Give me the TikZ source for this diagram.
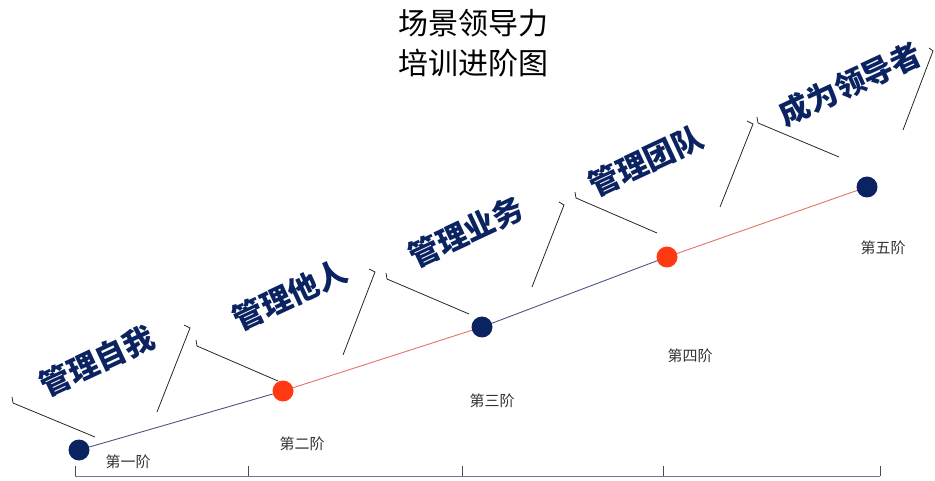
\documentclass[tikz,border=0pt]{standalone}
\usepackage{fontspec}
\setmainfont{Noto Sans CJK SC}
\usepackage{tikz}

\definecolor{StepNavy}{HTML}{0C2361}
\definecolor{StepRed}{HTML}{FF3A12}
\definecolor{PathNavy}{HTML}{4A5584}
\definecolor{PathRed}{HTML}{E57366}
\definecolor{AxisGray}{HTML}{6E7791}

\tikzset{
  stepdot/.style={circle, inner sep=0pt, minimum size=21pt},
  steptitle/.style={font=\fontsize{30.5}{31}\selectfont\bfseries, text=StepNavy, rotate=25, inner sep=0pt},
  steplabel/.style={font=\fontsize{15}{16}\selectfont, text=black!80, inner sep=0pt},
  bracket/.style={draw=black!85, line width=0.8pt},
}

\begin{document}
\begin{tikzpicture}[x=1pt, y=-1pt]
   \useasboundingbox (0,0) rectangle (935,481);

   % title
   \node (title) at (473,43) [align=center, font=\fontsize{30}{40}\selectfont] {场景领导力\\培训进阶图};

   % the five steps
   \node (d1) at (79,450) [stepdot, fill=StepNavy] {};
   \node (d2) at (283,391) [stepdot, fill=StepRed] {};
   \node (d3) at (482,327) [stepdot, fill=StepNavy] {};
   \node (d4) at (667,257) [stepdot, fill=StepRed] {};
   \node (d5) at (867,187) [stepdot, fill=StepNavy] {};
   \draw [PathNavy, line width=0.9pt] (d1) -- (d2);
   \draw [PathRed, line width=0.9pt] (d2) -- (d3);
   \draw [PathNavy, line width=0.9pt] (d3) -- (d4);
   \draw [PathRed, line width=0.9pt] (d4) -- (d5);

   \node (s1) at (128,462) [steplabel] {第一阶};
   \node (s2) at (302,444) [steplabel] {第二阶};
   \node (s3) at (492,401) [steplabel] {第三阶};
   \node (s4) at (690,356) [steplabel] {第四阶};
   \node (s5) at (883,248) [steplabel] {第五阶};

   \node (t1) at (97,361) [steptitle] {管理自我};
   \node (t2) at (290,295) [steptitle] {管理他人};
   \node (t3) at (466,232) [steptitle] {管理业务};
   \node (t4) at (646,161) [steptitle] {管理团队};
   \node (t5) at (850,84) [steptitle] {成为领导者};

   % brackets round the titles
   \draw [bracket] (12,397) -- (13,403) -- (95,437);
   \draw [bracket] (184,325) -- (190,328) -- (157,412);
   \draw [bracket] (196,340) -- (197,346) -- (278,381);
   \draw [bracket] (369,269) -- (375,272) -- (343,355);
   \draw [bracket] (386,273) -- (387,279) -- (469,314);
   \draw [bracket] (559,202) -- (564,205) -- (532,287);
   \draw [bracket] (575,192) -- (576,198) -- (657,233);
   \draw [bracket] (747,121) -- (753,124) -- (720,207);
   \draw [bracket] (757,117) -- (758,123) -- (839,157);
   \draw [bracket] (929,48) -- (933,51) -- (903,130);

   % axis
   \coordinate (a0) at (75,476);
   \coordinate (a4) at (880,476);
   \draw [AxisGray, line width=1pt] (a0) -- (a4);
   \draw [black!70, line width=0.7pt] (75,466) -- (75,476) (248,466) -- (248,476)
      (462,466) -- (462,476) (663,466) -- (663,476) (880,466) -- (880,476);
\end{tikzpicture}
\end{document}
